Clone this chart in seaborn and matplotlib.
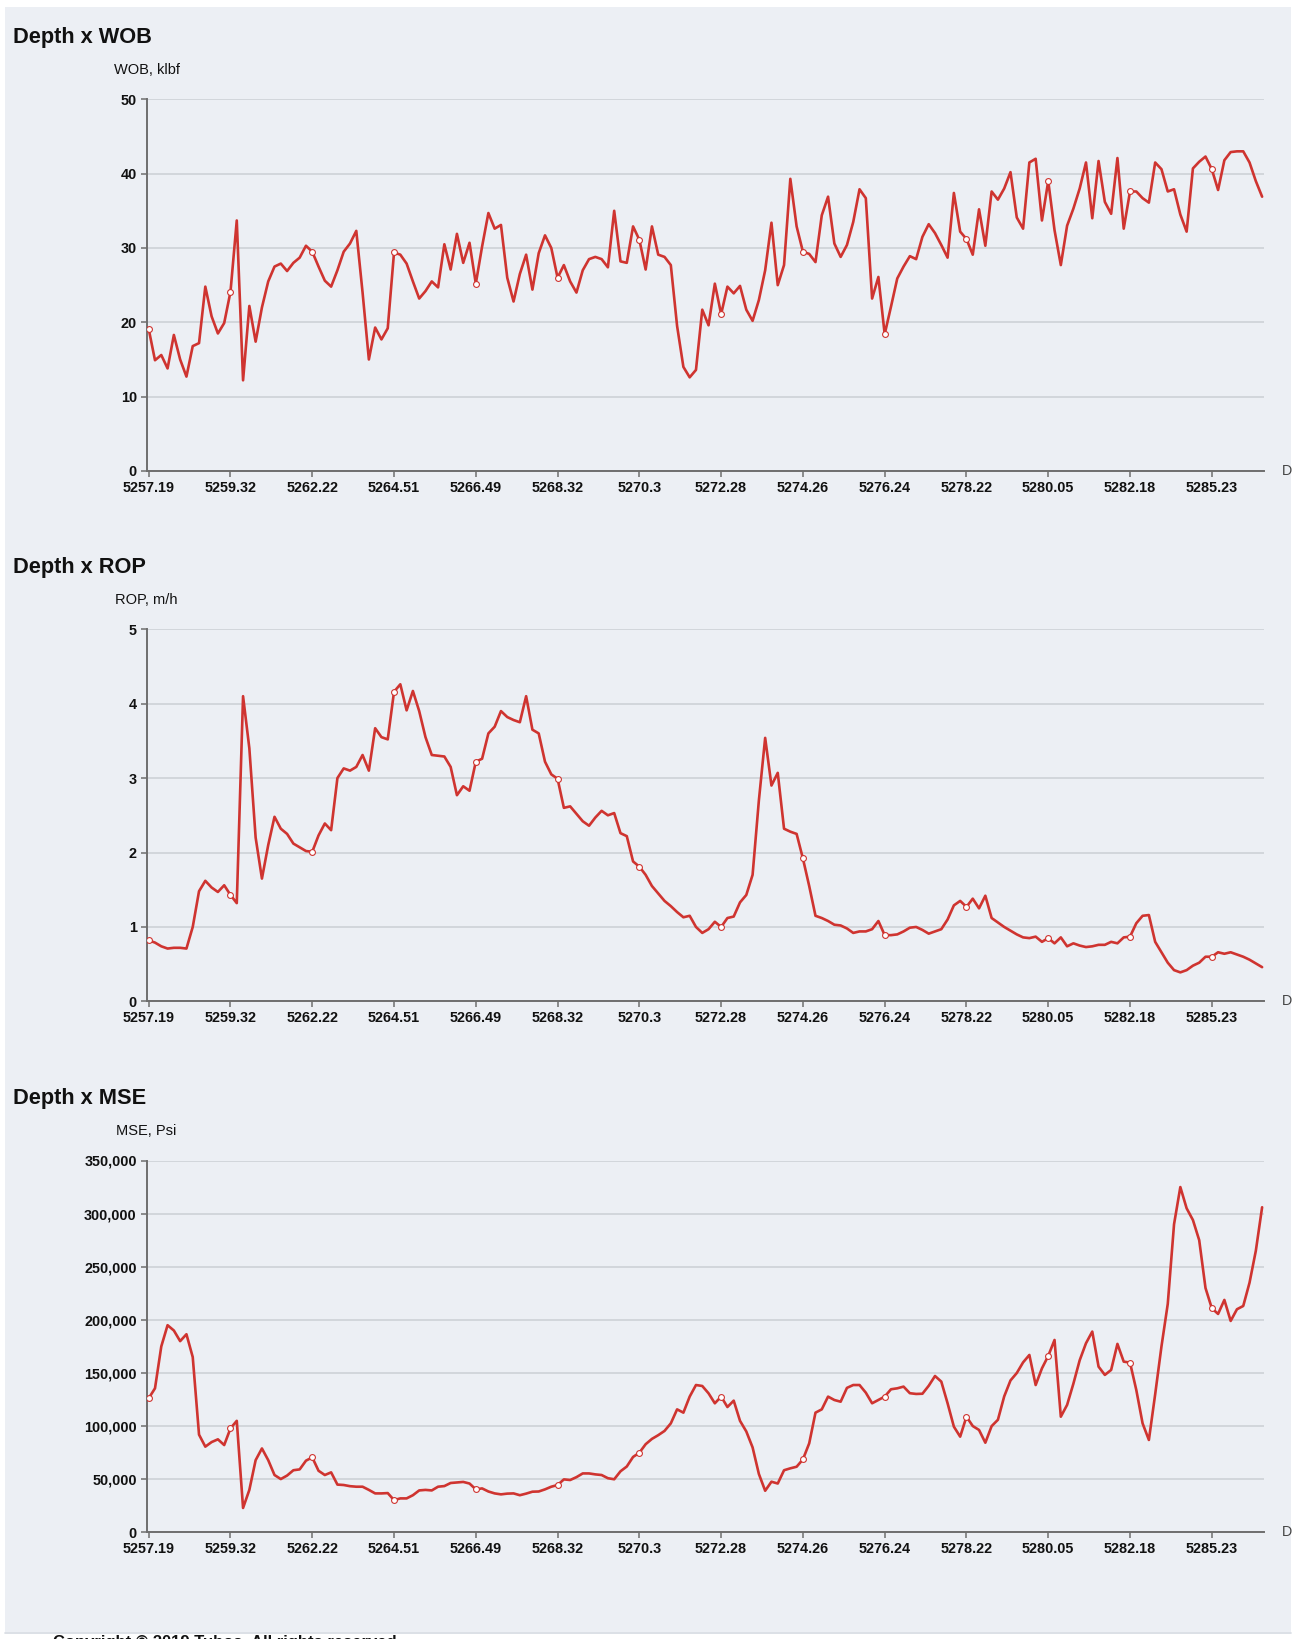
import numpy as np
import pandas as pd
import matplotlib
matplotlib.use("Agg")
import matplotlib.pyplot as plt
import seaborn as sns
from matplotlib.patches import Rectangle
from matplotlib.lines import Line2D
from matplotlib.ticker import FuncFormatter

# ---------------- data ----------------
depth_tick_labels = ["5257.19", "5259.32", "5262.22", "5264.51", "5266.49", "5268.32",
                     "5270.3", "5272.28", "5274.26", "5276.24", "5278.22", "5280.05",
                     "5282.18", "5285.23"]
samples_per_tick = 13

wob = [
    19.1, 14.9, 15.6, 13.8, 18.3, 15.0, 12.7, 16.8, 17.2, 24.8, 20.8, 18.5, 19.9,
    24.1, 33.7, 12.2, 22.2, 17.4, 22.0, 25.5, 27.5, 27.9, 26.9, 28.0, 28.7, 30.3,
    29.5, 27.5, 25.6, 24.8, 27.0, 29.5, 30.6, 32.3, 24.0, 15.0, 19.3, 17.7, 19.2,
    29.4, 29.1, 27.9, 25.5, 23.2, 24.2, 25.5, 24.7, 30.5, 27.1, 31.9, 28.0, 30.7,
    25.2, 30.2, 34.7, 32.6, 33.1, 26.0, 22.8, 26.5, 29.1, 24.4, 29.3, 31.7, 30.0,
    26.0, 27.7, 25.5, 24.0, 27.0, 28.5, 28.8, 28.5, 27.4, 35.0, 28.2, 28.0, 32.9,
    31.1, 27.1, 32.9, 29.1, 28.8, 27.7, 19.5, 14.0, 12.6, 13.6, 21.7, 19.6, 25.2,
    21.1, 24.8, 23.9, 24.9, 21.7, 20.2, 23.0, 27.0, 33.4, 25.0, 27.7, 39.3, 32.9,
    29.5, 29.2, 28.1, 34.4, 36.9, 30.6, 28.8, 30.4, 33.5, 37.9, 36.7, 23.2, 26.1,
    18.4, 22.1, 25.9, 27.5, 28.9, 28.5, 31.5, 33.2, 32.0, 30.4, 28.7, 37.4, 32.2,
    31.2, 29.1, 35.2, 30.3, 37.6, 36.5, 38.0, 40.2, 34.1, 32.6, 41.5, 42.0, 33.7,
    39.0, 32.4, 27.7, 33.0, 35.3, 38.0, 41.5, 34.0, 41.7, 36.2, 34.6, 42.1, 32.6,
    37.6, 37.6, 36.7, 36.1, 41.5, 40.6, 37.6, 37.9, 34.5, 32.2, 40.7, 41.6, 42.3,
    40.6, 37.8, 41.8, 42.9, 43.0, 43.0, 41.5, 39.0, 36.9,
]

rop = [
    0.82, 0.79, 0.74, 0.71, 0.72, 0.72, 0.71, 1.00, 1.48, 1.62, 1.53, 1.47, 1.56,
    1.43, 1.32, 4.10, 3.40, 2.20, 1.65, 2.10, 2.48, 2.32, 2.25, 2.12, 2.07, 2.02,
    2.01, 2.23, 2.39, 2.30, 3.00, 3.13, 3.10, 3.15, 3.31, 3.10, 3.67, 3.55, 3.52,
    4.16, 4.26, 3.91, 4.17, 3.90, 3.55, 3.31, 3.30, 3.29, 3.15, 2.77, 2.89, 2.83,
    3.22, 3.26, 3.60, 3.69, 3.90, 3.82, 3.78, 3.75, 4.10, 3.65, 3.60, 3.22, 3.05,
    2.99, 2.60, 2.62, 2.52, 2.42, 2.36, 2.47, 2.56, 2.50, 2.53, 2.26, 2.22, 1.88,
    1.81, 1.70, 1.55, 1.45, 1.35, 1.28, 1.20, 1.13, 1.15, 1.00, 0.92, 0.97, 1.07,
    1.00, 1.12, 1.14, 1.33, 1.43, 1.70, 2.70, 3.54, 2.90, 3.07, 2.32, 2.28, 2.25,
    1.92, 1.55, 1.15, 1.12, 1.08, 1.03, 1.02, 0.98, 0.92, 0.94, 0.94, 0.97, 1.08,
    0.89, 0.89, 0.90, 0.94, 0.99, 1.00, 0.96, 0.91, 0.94, 0.97, 1.10, 1.29, 1.35,
    1.27, 1.38, 1.25, 1.42, 1.12, 1.06, 1.00, 0.95, 0.90, 0.86, 0.85, 0.87, 0.80,
    0.85, 0.78, 0.86, 0.74, 0.78, 0.75, 0.73, 0.74, 0.76, 0.76, 0.80, 0.78, 0.86,
    0.87, 1.05, 1.15, 1.16, 0.80, 0.66, 0.52, 0.42, 0.39, 0.42, 0.48, 0.52, 0.60,
    0.60, 0.66, 0.64, 0.66, 0.63, 0.60, 0.56, 0.51, 0.46,
]

mse = [
    126200, 135600, 175000, 195000, 190000, 180000, 186500, 165000, 92000, 80700, 85000, 87600, 82200,
    97900, 105000, 23000, 40000, 68000, 79000, 68000, 54000, 50200, 53500, 58500, 59300, 67500,
    70600, 58000, 54000, 56500, 45000, 44600, 43500, 43000, 43000, 40000, 36700, 36700, 37000,
    30400, 32000, 32000, 35000, 39500, 40000, 39500, 43000, 43600, 46500, 47000, 47500, 46000,
    40500, 41400, 38500, 36700, 35800, 36500, 36700, 35000, 36500, 38300, 38500, 40500, 43000,
    44600, 49900, 49300, 52000, 55500, 55500, 54600, 54000, 51000, 50000, 57500, 62000, 71000,
    75000, 83000, 88000, 91500, 95500, 102600, 115800, 112700, 127800, 138700, 137800, 130900, 121500,
    127800, 118000, 124000, 105000, 95000, 80000, 55000, 39200, 47700, 46000, 58500, 60300, 61800,
    68700, 83800, 112700, 115800, 127800, 124600, 123000, 136000, 138700, 138700, 131500, 121500, 124600,
    127800, 134700, 135600, 137200, 131000, 130300, 130500, 138000, 147200, 141900, 121500, 99500, 90100,
    108900, 100100, 96400, 84400, 100000, 106000, 128000, 143000, 150000, 160000, 167000, 138700, 154400,
    166100, 181100, 108900, 120000, 140000, 162000, 178000, 189000, 156000, 148200, 152900, 177400, 160700,
    159800, 134000, 102600, 87000, 130000, 175000, 215000, 290000, 325000, 305000, 294000, 275000, 230000,
    211000, 205600, 218800, 199000, 210000, 213100, 235000, 265000, 306000,
]

titles = ["Depth x WOB", "Depth x ROP", "Depth x MSE"]
y_labels = ["WOB, klbf", "ROP, m/h", "MSE, Psi"]
x_label_visible = "D"  # only the first letter of the x-axis title shows in the panel

# ---------------- style ----------------
W, H = 1295, 1639
BG = "#ECEFF4"
RED = "#CF3430"
GRID = "#CDD1D7"
AXC = "#6E6E6E"
TXT = "#111111"

sns.set_theme(style="white")
plt.rcParams["font.family"] = ["Liberation Sans", "DejaVu Sans"]

fig = plt.figure(figsize=(W / 100, H / 100), dpi=100, facecolor="white")

# light panel
fig.patches.append(Rectangle((5 / W, 1 - 1632 / H), (1291 - 5) / W, (1632 - 7) / H,
                             transform=fig.transFigure, facecolor=BG, edgecolor="none", zorder=-10))
fig.lines.append(Line2D([5 / W, 1291 / W], [1 - 1632.5 / H] * 2, transform=fig.transFigure,
                        color="#D6DAE1", linewidth=1.2, zorder=-9))

series = [wob, rop, mse]
ylims = [(0, 50), (0, 5), (0, 350000)]
yticks = [np.arange(0, 51, 10), np.arange(0, 6, 1), np.arange(0, 350001, 50000)]
fmts = [FuncFormatter(lambda v, p: f"{v:.0f}"),
        FuncFormatter(lambda v, p: f"{v:.0f}"),
        FuncFormatter(lambda v, p: f"{v:,.0f}")]
# pixel geometry (top, bottom of each plot area)
tops = [99.3, 629.2, 1160.5]
bottoms = [471.0, 1001.4, 1532.4]
x_left, x_right = 146.5, 1264.0
offsets = [0, 530.5, 1061.0]

for i in range(3):
    vals = series[i]
    n = len(vals)
    df = pd.DataFrame({"idx": np.arange(n), "val": vals})
    ax = fig.add_axes([x_left / W, 1 - bottoms[i] / H, (x_right - x_left) / W,
                       (bottoms[i] - tops[i]) / H])
    ax.set_facecolor("none")
    sns.lineplot(data=df, x="idx", y="val", ax=ax, color=RED, linewidth=1.9,
                 solid_joinstyle="round", solid_capstyle="round",
                 marker="o", markevery=list(range(0, n, samples_per_tick)),
                 markersize=4.2, markerfacecolor="white", markeredgecolor=RED,
                 markeredgewidth=0.8, zorder=5)
    ax.set_xlim(-0.35, n - 1 + 0.3)
    ax.set_ylim(*ylims[i])
    ax.set_yticks(yticks[i])
    ax.yaxis.set_major_formatter(fmts[i])
    ax.set_xticks(np.arange(0, n, samples_per_tick)[:len(depth_tick_labels)])
    ax.set_xticklabels(depth_tick_labels)
    ax.set_xlabel("")
    ax.set_ylabel("")
    ax.yaxis.grid(True, color=GRID, linewidth=1.2)
    ax.xaxis.grid(False)
    for s in ["top", "right"]:
        ax.spines[s].set_visible(False)
    for s in ["left", "bottom"]:
        ax.spines[s].set_color(AXC)
        ax.spines[s].set_linewidth(1.4)
    ax.tick_params(axis="both", direction="out", length=4.5, width=1.1, color=AXC,
                   labelsize=10.4, labelcolor=TXT, pad=2.5)
    ax.tick_params(left=True, bottom=True)
    for lbl in ax.get_xticklabels() + ax.get_yticklabels():
        lbl.set_fontweight("bold")

    off = offsets[i]
    fig.text(13 / W, 1 - (43 + off) / H, titles[i], fontsize=15.7, fontweight="bold",
             ha="left", va="baseline", color=TXT)
    fig.text(x_left / W, 1 - (74 + off) / H, y_labels[i], fontsize=10.5,
             ha="center", va="baseline", color=TXT)
    fig.text(1282 / W, 1 - bottoms[i] / H, x_label_visible, fontsize=10.3, ha="left",
             va="center", color="#444444")

# copyright note below the panel (cut by the image edge)
fig.text(53 / W, 1 - 1635.5 / H, "Copyright © 2019 Tubos. All rights reserved.",
         fontsize=12, fontweight="bold", ha="left", va="top", color=TXT)

fig.savefig("out.png", dpi=100, facecolor="white")
